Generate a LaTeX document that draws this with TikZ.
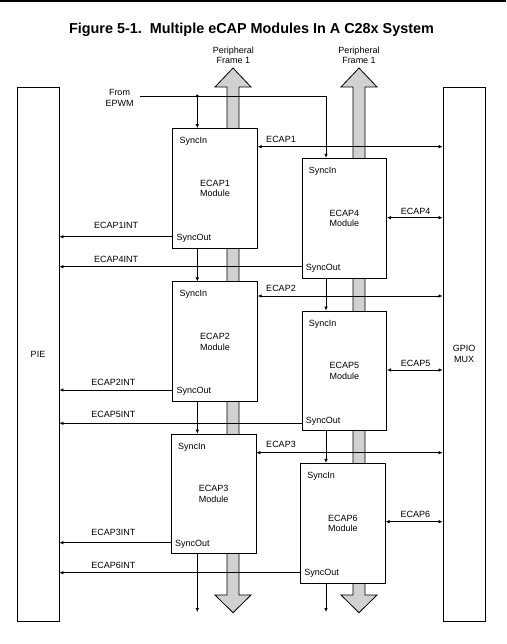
\documentclass[tikz,border=0pt]{standalone}
\usepackage{fontspec}
\setmainfont{Liberation Sans}
\usetikzlibrary{arrows.meta,calc}
\begin{document}
\begin{tikzpicture}[x=1pt,y=-1pt,
  every node/.style={font=\fontsize{9}{10.5}\selectfont, inner sep=0pt},
  modbox/.style={draw, line width=0.9pt, fill=white, minimum width=84.5pt, minimum height=119.8pt, align=center, font=\fontsize{9}{10.3}\selectfont},
  sidebox/.style={draw, line width=0.9pt, fill=white, minimum width=42pt, minimum height=534pt, align=center, font=\fontsize{9}{11}\selectfont},
  bus/.style={draw, line width=0.8pt, fill=black!18},
  sig/.style={line width=0.7pt},
  arr/.style={sig, -{Latex[length=4pt,width=3.6pt]}},
  dbl/.style={sig, {Latex[length=4pt,width=3.6pt]}-{Latex[length=4pt,width=3.6pt]}},
  lbl/.style={anchor=base},
  pin/.style={anchor=base west},
]
\useasboundingbox (0,0) rectangle (506,644);
% top rule
\fill (0,0) rectangle (506,2.3);
% title
\node[anchor=base, font=\fontsize{14.4}{16}\selectfont\bfseries] (title) at (251.5,33.3) {Figure 5-1.\ \ Multiple eCAP Modules In A C28x System};
% peripheral frame labels (base = last line)
\node[lbl, align=center, font=\fontsize{9}{10.7}\selectfont] (pf1) at (233.3,64) {Peripheral\\Frame 1};
\node[lbl, align=center, font=\fontsize{9}{10.7}\selectfont] (pf2) at (359,64) {Peripheral\\Frame 1};
% buses
\draw[bus] (233,68) -- (251,87) -- (239,87) -- (239,595) -- (251,595) -- (233,612.7) -- (215,595) -- (227,595) -- (227,87) -- (215,87) -- cycle;
\draw[bus] (359,68) -- (377,87) -- (365,87) -- (365,595) -- (377,595) -- (359,612.7) -- (341,595) -- (353,595) -- (353,87) -- (341,87) -- cycle;
% side boxes
\node[sidebox] (pie) at (38,354) {PIE};
\node[sidebox] (gpio) at (464,354) {GPIO\\MUX};
% modules
\node[modbox] (e1) at (215,188.5) {ECAP1\\Module};
\node[modbox] (e2) at (215,341.8) {ECAP2\\Module};
\node[modbox] (e3) at (213.7,494) {ECAP3\\Module};
\node[modbox] (e4) at (344.3,218.2) {ECAP4\\Module};
\node[modbox] (e5) at (344.3,371) {ECAP5\\Module};
\node[modbox] (e6) at (342.9,523.3) {ECAP6\\Module};
% pin labels
\foreach \m in {1,2,3,4,5,6}{
  \node[pin] (si\m) at ($(e\m.north west)+(7,15.5)$) {SyncIn};
  \node[pin] (so\m) at ($(e\m.south west)+(4,-8.3)$) {SyncOut};
}
% sync chain
\node[lbl, align=center, inner xsep=6pt, font=\fontsize{9}{10.6}\selectfont] (epwm) at (119.5,106.6) {From\\EPWM};
\coordinate (j) at (197.3,96);
\coordinate (ca) at (197.3,0);
\coordinate (cb) at (326,0);
\coordinate (endA) at (197.3,612);
\coordinate (endB) at (326,612);
\draw[sig] (epwm.east |- j) -- (j);
\draw[arr] (j) -- (j -| cb) -- (e4.north -| cb);
\fill (j) circle (1.6);
\draw[arr] (j) -- (e1.north -| ca);
\draw[arr] (e1.south -| ca) -- (e2.north -| ca);
\draw[arr] (e2.south -| ca) -- (e3.north -| ca);
\draw[arr] (e3.south -| ca) -- (endA);
\draw[arr] (e4.south -| cb) -- (e5.north -| cb);
\draw[arr] (e5.south -| cb) -- (e6.north -| cb);
\draw[arr] (e6.south -| cb) -- (endB);
% interrupt lines
\coordinate (i1) at (0,236.7);
\coordinate (i4) at (0,266.7);
\coordinate (i2) at (0,390);
\coordinate (i5) at (0,423.3);
\coordinate (i3) at (0,542.7);
\coordinate (i6) at (0,572.7);
\draw[arr] (e1.west |- i1) -- (pie.east |- i1);
\draw[arr] (e4.west |- i4) -- (pie.east |- i4);
\draw[arr] (e2.west |- i2) -- (pie.east |- i2);
\draw[arr] (e5.west |- i5) -- (pie.east |- i5);
\draw[arr] (e3.west |- i3) -- (pie.east |- i3);
\draw[arr] (e6.west |- i6) -- (pie.east |- i6);
\node[lbl] (l1i) at (116.2,229) {ECAP1INT};
\node[lbl] (l4i) at (116.2,262.3) {ECAP4INT};
\node[lbl] (l2i) at (113.3,385.3) {ECAP2INT};
\node[lbl] (l5i) at (113.3,417.7) {ECAP5INT};
\node[lbl] (l3i) at (113.3,535.3) {ECAP3INT};
\node[lbl] (l6i) at (113.3,568.3) {ECAP6INT};
% GPIO lines
\coordinate (g1) at (0,146.7);
\coordinate (g4) at (0,217.7);
\coordinate (g2) at (0,296);
\coordinate (g5) at (0,370);
\coordinate (g3) at (0,452.7);
\coordinate (g6) at (0,521.7);
\foreach \m in {1,2,3,4,5,6}{
  \draw[dbl] (e\m.east |- g\m) -- (gpio.west |- g\m);
}
\node[lbl] (l1) at (281,142.3) {ECAP1};
\node[lbl] (l4) at (415.7,214.3) {ECAP4};
\node[lbl] (l2) at (281,291) {ECAP2};
\node[lbl] (l5) at (415.7,366) {ECAP5};
\node[lbl] (l3) at (281,447.3) {ECAP3};
\node[lbl] (l6) at (415.3,517.3) {ECAP6};
\end{tikzpicture}
\end{document}
